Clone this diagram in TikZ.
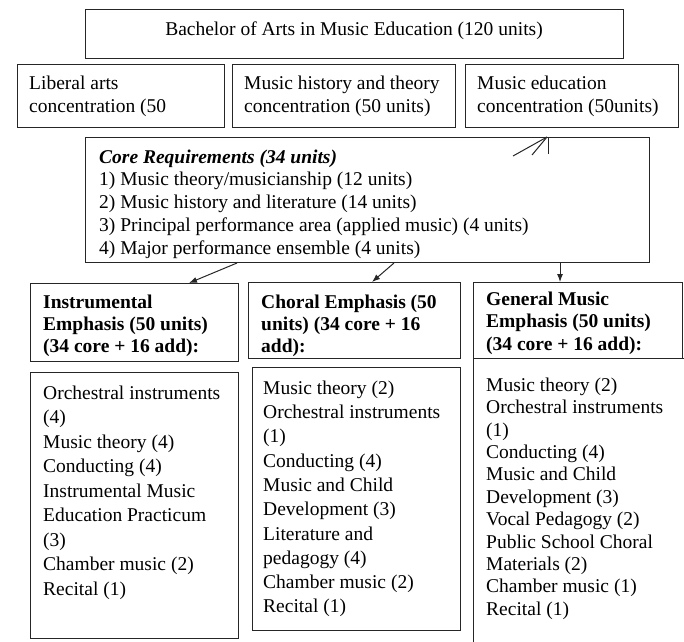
\documentclass[tikz,border=0pt]{standalone}
\usepackage{fontspec}
\setmainfont{Liberation Serif}
\usetikzlibrary{arrows.meta}
\newcommand{\firstln}{\rule{0pt}{14pt}}
\tikzset{
  box/.style={draw=black!85, line width=1pt, inner sep=0pt, anchor=north west},
  txt/.style={inner sep=0pt, anchor=north west, align=left, font=\fontsize{19.5}{#1}\selectfont},
  txt/.default=23pt,
  arr/.style={draw=black!85, line width=1pt, -{Latex[length=8pt,width=6pt]}},
  thin/.style={draw=black!85, line width=1pt},
}
\begin{document}
\begin{tikzpicture}[x=1pt, y=-1pt]
\clip (0,0) rectangle (684,641);
\useasboundingbox (0,0) rectangle (684,641);
% top box
\node[box, minimum width=538pt, minimum height=49pt] (top) at (85,9) {};
\node[txt, anchor=base] (toptxt) at (354,35) {Bachelor of Arts in Music Education (120 units)};
% concentrations
\node[box, minimum width=207pt, minimum height=63pt] (lib) at (17,64) {};
\node[txt] (libtxt) at (29,75) {\firstln Liberal arts\\concentration (50};
\node[box, minimum width=223pt, minimum height=63pt] (hist) at (232,64) {};
\node[txt] (histtxt) at (244,75) {\firstln Music history and theory\\concentration (50 units)};
\node[box, minimum width=213pt, minimum height=63pt] (edu) at (465,64) {};
\node[txt] (edutxt) at (477,75) {\firstln Music education\\concentration (50units)};
% core
\node[box, minimum width=564pt, minimum height=125pt] (core) at (85,137) {};
\node[txt=22.75pt] (coretxt) at (99,149) {\firstln\textbf{\textit{Core Requirements (34 units)}}\\
1) Music theory/musicianship (12 units)\\
2) Music history and literature (14 units)\\
3) Principal performance area (applied music) (4 units)\\
4) Major performance ensemble (4 units)};
% stray arrow
\coordinate (sa) at (513,156);
\coordinate (stip) at ([xshift=462pt]core.north west);
\draw[thin] (sa) -- (stip);
\draw[thin] (532,155) -- (stip);
\draw[thin] ([xshift=1pt]stip) -- ++(0,17);
% emphasis headers
\node[box, minimum width=208pt, minimum height=78pt] (ih) at (30,283) {};
\node[txt=22pt] (ihtxt) at (43,294) {\firstln\textbf{Instrumental}\\\textbf{Emphasis (50 units)}\\\textbf{(34 core + 16 add):}};
\node[box, minimum width=212pt, minimum height=76pt] (ch) at (248,282) {};
\node[txt=22pt] (chtxt) at (261,294) {\firstln\textbf{Choral Emphasis (50}\\\textbf{units) (34 core + 16}\\\textbf{add):}};
\node[box, minimum width=209pt, minimum height=76pt] (gh) at (473,282) {};
\node[txt=22.5pt] (ghtxt) at (486,291) {\firstln\textbf{General Music}\\\textbf{Emphasis (50 units)}\\\textbf{(34 core + 16 add):}};
% lists
\node[box, minimum width=208pt, minimum height=266pt] (il) at (30,372) {};
\node[txt=24.5pt] (iltxt) at (43,385) {\firstln Orchestral instruments\\(4)\\Music theory (4)\\Conducting (4)\\Instrumental Music\\Education Practicum\\(3)\\Chamber music (2)\\Recital (1)};
\node[box, minimum width=208pt, minimum height=263pt] (cl) at (252,367) {};
\node[txt=24.3pt] (cltxt) at (263,380) {\firstln Music theory (2)\\Orchestral instruments\\(1)\\Conducting (4)\\Music and Child\\Development (3)\\Literature and\\pedagogy (4)\\Chamber music (2)\\Recital (1)};
\node[box, minimum width=230pt, minimum height=300pt] (gl) at (473,358) {};
\node[txt=22.4pt] (gltxt) at (486,377) {\firstln Music theory (2)\\Orchestral instruments\\(1)\\Conducting (4)\\Music and Child\\Development (3)\\Vocal Pedagogy (2)\\Public School Choral\\Materials (2)\\Chamber music (1)\\Recital (1)};
% arrows
\draw[arr] ([xshift=152pt]core.south west) -- ([xshift=159pt]ih.north west);
\draw[arr] ([xshift=309pt]core.south west) -- ([xshift=124pt]ch.north west);
\draw[arr] ([xshift=475pt]core.south west) -- ([xshift=87pt]gh.north west);
\end{tikzpicture}
\end{document}
